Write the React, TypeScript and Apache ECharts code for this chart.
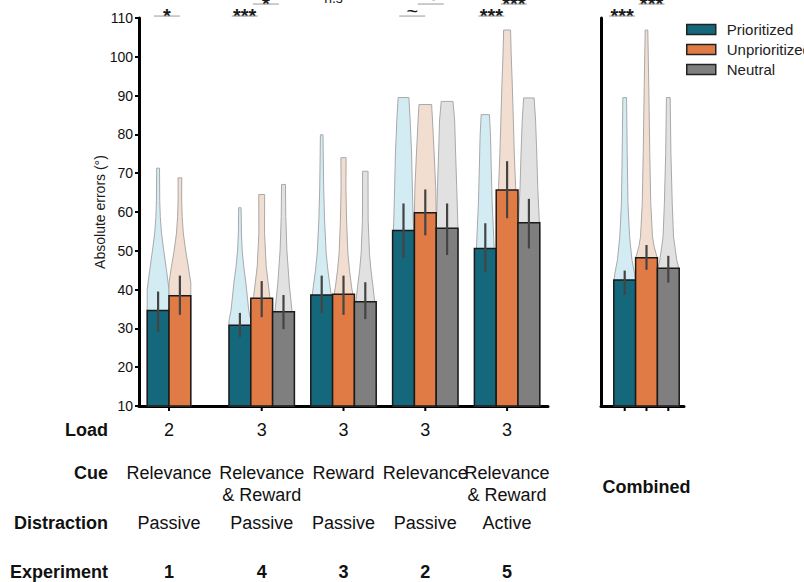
import React, { useEffect, useRef } from "react";
import * as echarts from "echarts";

// ---------- data ----------
const experiments = ["1", "4", "3", "2", "5"];
const loads = ["2", "3", "3", "3", "3"];
const cues = ["Relevance", "Relevance\n& Reward", "Reward", "Relevance", "Relevance\n& Reward"];
const distractions = ["Passive", "Passive", "Passive", "Passive", "Active"];
const conditions = ["Prioritized", "Unprioritized", "Neutral"];
const rowLabels = ["Load", "Cue", "Distraction", "Experiment"];

const prioritizedMean = [34.6, 30.8, 38.6, 55.2, 50.6];
const prioritizedLow = [29.1, 27.8, 33.9, 48.2, 44.6];
const prioritizedHigh = [39.5, 34.0, 43.6, 62.2, 57.1];
const unprioritizedMean = [38.4, 37.8, 38.8, 59.8, 65.7];
const unprioritizedLow = [33.5, 32.9, 33.5, 54.0, 58.4];
const unprioritizedHigh = [43.6, 42.2, 43.6, 65.8, 73.1];
const neutralMean = [null, 34.3, 36.9, 55.8, 57.2];
const neutralLow = [null, 29.8, 32.4, 48.9, 50.6];
const neutralHigh = [null, 38.6, 41.9, 62.2, 63.4];
const combinedMean = [42.5, 48.2, 45.5];
const combinedLow = [38.6, 45.1, 41.8];
const combinedHigh = [44.9, 51.5, 48.7];

// violin profiles: [value, width as share of bar width]
const prioritizedViolins = [
  [[10, 1], [40, 1], [45, 0.77], [50, 0.52], [54.6, 0.31], [58.8, 0.2], [63, 0.15], [71.3, 0.13]],
  [[10, 1], [32, 1], [34.7, 0.81], [41.7, 0.55], [46, 0.35], [50.2, 0.21], [54.6, 0.14], [61.1, 0.11]],
  [[10, 1], [38, 0.9], [40.7, 0.77], [45, 0.57], [49.4, 0.41], [58, 0.26], [66.5, 0.18], [75.2, 0.14], [79.9, 0.12]],
  [[10, 1], [50, 1], [58, 0.89], [66.5, 0.81], [75.2, 0.74], [83.7, 0.61], [89.5, 0.49]],
  [[10, 1], [48, 0.85], [53.6, 0.77], [62.3, 0.63], [70.8, 0.55], [79.4, 0.48], [85.1, 0.38]],
];
const unprioritizedViolins = [
  [[10, 1], [41.7, 1], [46, 0.77], [50.2, 0.52], [54.6, 0.31], [58.8, 0.21], [63.1, 0.16], [68.8, 0.17]],
  [[10, 1], [36, 0.9], [38.2, 0.74], [46, 0.41], [54.6, 0.26], [64.5, 0.27]],
  [[10, 1], [38, 0.9], [40.7, 0.74], [45, 0.55], [49.4, 0.4], [58, 0.28], [66.5, 0.22], [74, 0.24]],
  [[10, 1], [60, 1], [66.5, 0.95], [75.2, 0.81], [83.7, 0.66], [87.7, 0.58]],
  [[10, 1], [62, 0.85], [66.5, 0.78], [75.2, 0.66], [83.7, 0.57], [92.4, 0.48], [101, 0.37], [106.9, 0.32]],
];
const neutralViolins = [
  null,
  [[10, 1], [32, 1], [34.7, 0.77], [41.7, 0.52], [50.2, 0.31], [58.8, 0.21], [67.1, 0.18]],
  [[10, 1], [36, 0.9], [40.7, 0.71], [45, 0.52], [49.4, 0.38], [58, 0.26], [70.5, 0.25]],
  [[10, 1], [55, 1], [58, 0.97], [66.5, 0.88], [75.2, 0.78], [83.7, 0.69], [88.5, 0.54]],
  [[10, 1], [55, 1], [58, 0.95], [66.5, 0.81], [75.2, 0.72], [83.7, 0.61], [89.4, 0.48]],
];
const combinedViolins = [
  [[10, 1], [42, 1], [44.2, 0.9], [47.6, 0.67], [53.6, 0.45], [62.2, 0.3], [75.1, 0.23], [89.5, 0.17]],
  [[10, 1], [48, 1], [51.1, 0.7], [53.6, 0.55], [62.2, 0.39], [75.1, 0.3], [92.3, 0.21], [106.9, 0.12]],
  [[10, 1], [45, 1], [47.6, 0.78], [53.6, 0.48], [62.2, 0.36], [75.1, 0.24], [89.5, 0.17]],
];

// significance marks
const sigMarks = [
  { panel: 0, group: 0, row: 0, label: "*", offset: -0.6 },
  { panel: 0, group: 1, row: 0, label: "***", offset: -0.78 },
  { panel: 0, group: 1, row: 1, label: "*", offset: 0.19 },
  { panel: 0, group: 2, row: 1, label: "n.s", offset: -0.46 },
  { panel: 0, group: 3, row: 0, label: "~", offset: -0.6 },
  { panel: 0, group: 3, row: 1, label: "~", offset: 0.25 },
  { panel: 0, group: 4, row: 0, label: "***", offset: -0.72 },
  { panel: 0, group: 4, row: 1, label: "***", offset: 0.31 },
  { panel: 1, group: 0, row: 0, label: "***", offset: -1.12 },
  { panel: 1, group: 0, row: 1, label: "***", offset: 0.23 },
];

// ---------- styles / layout ----------
const FONT = "'Liberation Sans', Arial, Helvetica, sans-serif";
const BW = 21.8;
const COMBINED_SHIFT = 4;
const barColors = ["#15687b", "#e07b45", "#7f7f7f"];
const violinFills = ["#d3ebf3", "#f2ddd1", "#e1e1e1"];
const VIOLIN_STROKE = "#a9a9a9";
const SIG_ROW_VALUES = [110.5, 113.6];
const ROW_Y = [430, 473, 523, 572];
const COMBINED_Y = 487;

const meansByCond = [prioritizedMean, unprioritizedMean, neutralMean];
const lowsByCond = [prioritizedLow, unprioritizedLow, neutralLow];
const highsByCond = [prioritizedHigh, unprioritizedHigh, neutralHigh];
const violinsByCond = [prioritizedViolins, unprioritizedViolins, neutralViolins];

function violinPoints(profile: number[][], cx: number, g: number, api: any) {
  const left: number[][] = [];
  const right: number[][] = [];
  for (const [v, w] of profile) {
    const y = api.coord([g, v])[1];
    left.push([cx - (w * BW) / 2, y]);
    right.push([cx + (w * BW) / 2, y]);
  }
  return left.concat(right.reverse());
}

function barItem(cx: number, g: number, mean: number, lo: number, hi: number, color: string, api: any) {
  const top = api.coord([g, mean])[1];
  const base = api.coord([g, 10])[1];
  return {
    type: "group",
    children: [
      {
        type: "rect",
        shape: { x: cx - BW / 2, y: top, width: BW, height: base - top },
        style: { fill: color, stroke: "#1a1a1a", lineWidth: 1.5 },
      },
      {
        type: "line",
        shape: { x1: cx, y1: api.coord([g, lo])[1], x2: cx, y2: api.coord([g, hi])[1] },
        style: { stroke: "#444", lineWidth: 2.2 },
      },
    ],
  };
}

function sigItem(m: any, cx: number, api: any, g: number) {
  const ly = api.coord([g, SIG_ROW_VALUES[m.row]])[1];
  const isStar = m.label.startsWith("*");
  const isNs = m.label === "n.s";
  const fs = isNs ? 14 : 20;
  const dy = isStar ? -0.4 : isNs ? -5.9 : -5.5;
  const children: any[] = [
    {
      type: "text",
      x: cx,
      y: ly + dy,
      style: {
        text: m.label,
        fill: "#1a1a1a",
        fontSize: fs,
        fontWeight: isStar ? "bold" : "normal",
        fontFamily: FONT,
        align: "center",
        verticalAlign: "middle",
      },
    },
  ];
  if (!isNs) {
    children.push({
      type: "line",
      shape: { x1: cx - 13, y1: ly, x2: cx + 13, y2: ly },
      style: { stroke: "#999", lineWidth: 1 },
    });
  }
  return { type: "group", children };
}

function tableText(text: string, x: number, yc: number, bold: boolean, align = "center") {
  return {
    type: "text",
    x,
    y: yc - 11,
    style: {
      text,
      fill: "#111",
      fontSize: 18,
      fontWeight: bold ? "bold" : "normal",
      fontFamily: FONT,
      lineHeight: 22,
      align,
      verticalAlign: "top",
      textAlign: align,
      textVerticalAlign: "top",
    },
  };
}

function buildOption() {
  const axisLine = { show: true, onZero: false, lineStyle: { color: "#000", width: 3 } };
  const series: any[] = [];

  // violins
  const violinData: number[][] = [];
  for (let g = 0; g < experiments.length; g++)
    for (let c = 0; c < 3; c++) if (violinsByCond[c][g]) violinData.push([g, c]);
  series.push({
    type: "custom",
    name: "violins",
    xAxisIndex: 0,
    yAxisIndex: 0,
    silent: true,
    z: 1,
    data: violinData,
    renderItem: (params: any, api: any) => {
      const g = api.value(0);
      const c = api.value(1);
      const cx = api.coord([g, 10])[0] + (c - 1) * BW;
      return {
        type: "polygon",
        shape: { points: violinPoints(violinsByCond[c][g] as number[][], cx, g, api) },
        style: { fill: violinFills[c], stroke: VIOLIN_STROKE, lineWidth: 1 },
      };
    },
  });
  series.push({
    type: "custom",
    name: "violinsCombined",
    xAxisIndex: 1,
    yAxisIndex: 1,
    silent: true,
    z: 1,
    data: [[0, 0], [0, 1], [0, 2]],
    renderItem: (params: any, api: any) => {
      const c = api.value(1);
      const cx = api.coord([0, 10])[0] + (c - 1) * BW + COMBINED_SHIFT;
      return {
        type: "polygon",
        shape: { points: violinPoints(combinedViolins[c], cx, 0, api) },
        style: { fill: violinFills[c], stroke: VIOLIN_STROKE, lineWidth: 1 },
      };
    },
  });

  // bars + error bars
  for (let c = 0; c < 3; c++) {
    const data: number[][] = [];
    for (let g = 0; g < experiments.length; g++) {
      const m = meansByCond[c][g];
      if (m !== null) data.push([g, m as number, lowsByCond[c][g] as number, highsByCond[c][g] as number]);
    }
    series.push({
      type: "custom",
      name: conditions[c],
      xAxisIndex: 0,
      yAxisIndex: 0,
      z: 3,
      itemStyle: { color: barColors[c] },
      data,
      renderItem: (params: any, api: any) => {
        const g = api.value(0);
        const cx = api.coord([g, 10])[0] + (c - 1) * BW;
        return barItem(cx, g, api.value(1), api.value(2), api.value(3), barColors[c], api);
      },
    });
    series.push({
      type: "custom",
      name: conditions[c],
      xAxisIndex: 1,
      yAxisIndex: 1,
      z: 3,
      itemStyle: { color: barColors[c] },
      data: [[0, combinedMean[c], combinedLow[c], combinedHigh[c]]],
      renderItem: (params: any, api: any) => {
        const cx = api.coord([0, 10])[0] + (c - 1) * BW + COMBINED_SHIFT;
        return barItem(cx, 0, api.value(1), api.value(2), api.value(3), barColors[c], api);
      },
    });
  }

  // x ticks
  const tickX = (g: number, api: any) =>
    api.coord([g, 10])[0] + (meansByCond[2][g] === null ? -BW / 2 : 0);
  series.push({
    type: "custom",
    name: "ticks",
    xAxisIndex: 0,
    yAxisIndex: 0,
    silent: true,
    z: 4,
    data: experiments.map((_, g) => [g]),
    renderItem: (params: any, api: any) => {
      const g = api.value(0);
      const x = tickX(g, api);
      const y = api.coord([g, 10])[1];
      return { type: "line", shape: { x1: x, y1: y + 1, x2: x, y2: y + 5 }, style: { stroke: "#000", lineWidth: 2 } };
    },
  });
  series.push({
    type: "custom",
    name: "ticksCombined",
    xAxisIndex: 1,
    yAxisIndex: 1,
    silent: true,
    z: 4,
    data: [[0, 0], [0, 1], [0, 2]],
    renderItem: (params: any, api: any) => {
      const c = api.value(1);
      const x = api.coord([0, 10])[0] + (c - 1) * BW + COMBINED_SHIFT;
      const y = api.coord([0, 10])[1];
      return { type: "line", shape: { x1: x, y1: y + 1, x2: x, y2: y + 5 }, style: { stroke: "#000", lineWidth: 2 } };
    },
  });

  // significance marks
  for (let p = 0; p < 2; p++) {
    const idx = sigMarks.map((m, i) => (m.panel === p ? i : -1)).filter((i) => i >= 0);
    series.push({
      type: "custom",
      name: "sig" + p,
      xAxisIndex: p,
      yAxisIndex: p,
      silent: true,
      clip: false,
      z: 5,
      data: idx.map((i) => [sigMarks[i].group, i]),
      renderItem: (params: any, api: any) => {
        const g = api.value(0);
        const m = sigMarks[api.value(1)];
        const cx = api.coord([g, 10])[0] + m.offset * BW + (p === 1 ? COMBINED_SHIFT : 0);
        return sigItem(m, cx, api, g);
      },
    });
  }

  // table below
  series.push({
    type: "custom",
    name: "table",
    xAxisIndex: 0,
    yAxisIndex: 0,
    silent: true,
    clip: false,
    z: 5,
    data: experiments.map((_, g) => [g]),
    renderItem: (params: any, api: any) => {
      const g = api.value(0);
      const x = tickX(g, api);
      return {
        type: "group",
        children: [
          tableText(loads[g], x, ROW_Y[0], false),
          tableText(cues[g], x, ROW_Y[1], false),
          tableText(distractions[g], x, ROW_Y[2], false),
          tableText(experiments[g], x, ROW_Y[3], true),
        ],
      };
    },
  });
  series.push({
    type: "custom",
    name: "tableCombined",
    xAxisIndex: 1,
    yAxisIndex: 1,
    silent: true,
    clip: false,
    z: 5,
    data: [[0]],
    renderItem: (params: any, api: any) => {
      const x = api.coord([0, 10])[0] + COMBINED_SHIFT;
      return tableText("Combined", x, COMBINED_Y, true);
    },
  });

  return {
    animation: false,
    textStyle: { fontFamily: FONT },
    grid: [
      { left: 139, top: 18, width: 409, height: 388 },
      { left: 601, top: 18, width: 83, height: 388 },
    ],
    xAxis: [
      {
        type: "category",
        gridIndex: 0,
        data: experiments,
        axisLine,
        axisTick: { show: false },
        axisLabel: { show: false },
        splitLine: { show: false },
      },
      {
        type: "category",
        gridIndex: 1,
        data: ["Combined"],
        axisLine,
        axisTick: { show: false },
        axisLabel: { show: false },
        splitLine: { show: false },
      },
    ],
    yAxis: [
      {
        type: "value",
        gridIndex: 0,
        min: 10,
        max: 110,
        interval: 10,
        name: "Absolute errors (°)",
        nameLocation: "middle",
        nameGap: 32,
        nameRotate: 90,
        nameMoveOverlap: false,
        nameTextStyle: { fontSize: 14, color: "#1a1a1a", fontFamily: FONT },
        axisLine,
        axisTick: { show: true, length: 4, lineStyle: { color: "#000", width: 2 } },
        axisLabel: { fontSize: 14, color: "#111", margin: 6, fontFamily: FONT },
        splitLine: { show: false },
      },
      {
        type: "value",
        gridIndex: 1,
        min: 10,
        max: 110,
        interval: 10,
        axisLine,
        axisTick: { show: false },
        axisLabel: { show: false },
        splitLine: { show: false },
      },
    ],
    legend: {
      orient: "vertical",
      left: 686,
      top: 22,
      padding: 0,
      itemWidth: 29,
      itemHeight: 10,
      itemGap: 5,
      selectedMode: false,
      textStyle: { fontSize: 15, color: "#222", fontFamily: FONT, padding: [0, 0, 0, 6] },
      data: conditions.map((n, i) => ({
        name: n,
        icon: "rect",
        itemStyle: { color: barColors[i], borderColor: "#222", borderWidth: 1.5 },
      })),
    },
    graphic: rowLabels.map((t, i) => tableText(t, 108, ROW_Y[i], true, "right")),
    series,
  };
}

export default function App() {
  const ref = useRef<HTMLDivElement>(null);
  useEffect(() => {
    document.body.style.margin = "0";
    const chart = echarts.init(ref.current as HTMLDivElement, null, { renderer: "svg" });
    chart.setOption(buildOption() as any);
    return () => chart.dispose();
  }, []);
  return (
    <div
      ref={ref}
      style={{ position: "absolute", left: 0, top: 0, width: 804, height: 582 }}
    />
  );
}
